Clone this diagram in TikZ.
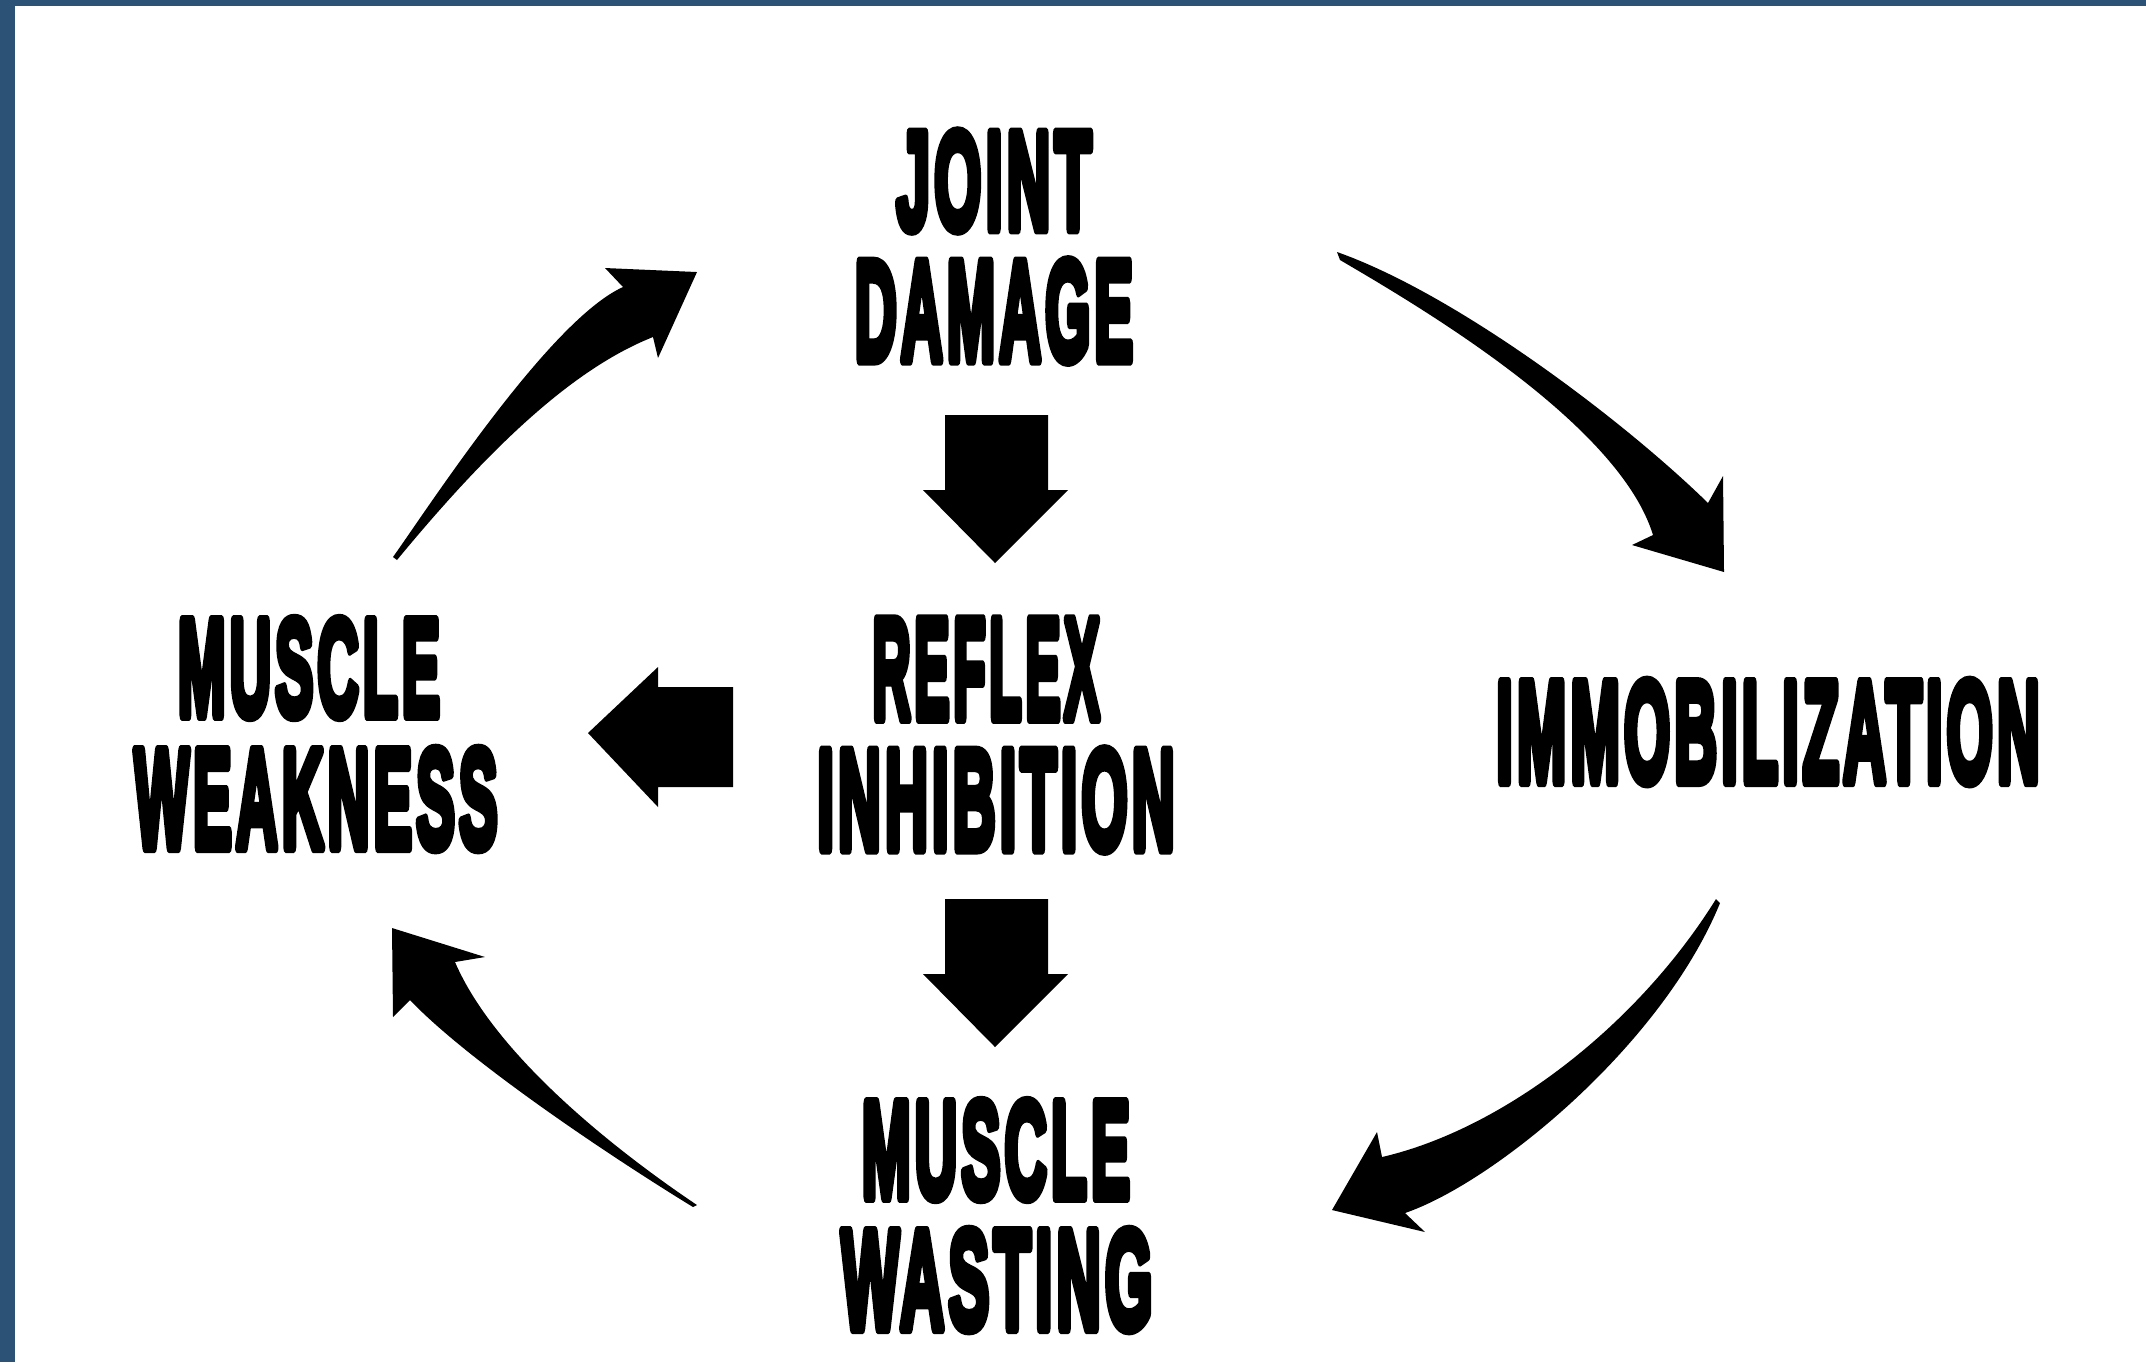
\documentclass[tikz,border=0pt]{standalone}
\usepackage{fontspec}
\newfontfamily\heavy{Liberation Sans}[FakeBold=8, LetterSpace=7, BoldFeatures={FakeBold=8, LetterSpace=7}]
\definecolor{framecol}{RGB}{44,82,118}
\tikzset{
  lbl/.style={inner sep=0pt, outer sep=0pt, anchor=center},
  blk/.style={fill=black, draw=none}
}
\newcommand{\lbltext}[3]{\resizebox{#1cm}{#2cm}{\heavy\bfseries #3}}
\begin{document}
\begin{tikzpicture}[x=0.01cm,y=-0.01cm]
\useasboundingbox (0,0) rectangle (2146,1362);
\fill[white] (0,0) rectangle (2146,1362);
\fill[framecol] (0,0) rectangle (2146,6);
\fill[framecol] (0,0) rectangle (15,1362);

% labels
\begin{scope}[line join=round, line cap=round]
\node[lbl] (jt) at (994,181) {\lbltext{1.95}{0.97}{JOINT}};
\node[lbl] (dm) at (994,311) {\lbltext{2.78}{0.99}{DAMAGE}};
\node[lbl] (rf) at (986,669) {\lbltext{2.27}{0.98}{REFLEX}};
\node[lbl] (ih) at (996,800) {\lbltext{3.57}{0.99}{INHIBITION}};
\node[lbl] (mw) at (996,1150) {\lbltext{2.68}{0.96}{MUSCLE}};
\node[lbl] (ws) at (997,1280) {\lbltext{3.11}{0.98}{WASTING}};
\node[lbl] (ml) at (309,668) {\lbltext{2.62}{0.96}{MUSCLE}};
\node[lbl] (wk) at (316,799) {\lbltext{3.63}{0.98}{WEAKNESS}};
\node[lbl] (im) at (1768,732) {\lbltext{5.43}{1.00}{IMMOBILIZATION}};
\end{scope}

% block arrows
\fill[blk] (945,415) -- (1048,415) -- (1048,490) -- (1068,490) -- (995,563) -- (923,490) -- (945,490) -- cycle;
\fill[blk] (945,899) -- (1048,899) -- (1048,974) -- (1068,974) -- (995,1047) -- (923,974) -- (945,974) -- cycle;
\fill[blk] (733,687) -- (733,787) -- (658,787) -- (658,807) -- (588,733) -- (658,667) -- (658,687) -- cycle;

% curved tapered arrows
% top right: joint damage -> immobilization
\fill[blk] (1337,252) .. controls (1456,294) and (1622,419) .. (1708,503) -- (1723,476) -- (1724,572) -- (1632,545) -- (1653,535) .. controls (1619,424) and (1422,308) .. (1340,260) -- cycle;
% top left: muscle weakness -> joint damage
\fill[blk] (393,557) .. controls (430,505) and (550,320) .. (623,287) -- (605,268) -- (697,272) -- (658,358) -- (653,337) .. controls (580,366) and (500,435) .. (397,560) -- cycle;
% bottom left: muscle wasting -> muscle weakness
\fill[blk] (697,1205) .. controls (615,1150) and (495,1055) .. (455,962) -- (485,957) -- (392,928) -- (393,1017) -- (410,1000) .. controls (465,1058) and (600,1150) .. (693,1207) -- cycle;
% bottom right: immobilization -> muscle wasting
\fill[blk] (1716,899) .. controls (1637,1026) and (1503,1129) .. (1382,1157) -- (1377,1132) -- (1332,1210) -- (1425,1232) -- (1405,1213) .. controls (1495,1182) and (1662,1045) .. (1720,903) -- cycle;
\end{tikzpicture}
\end{document}
